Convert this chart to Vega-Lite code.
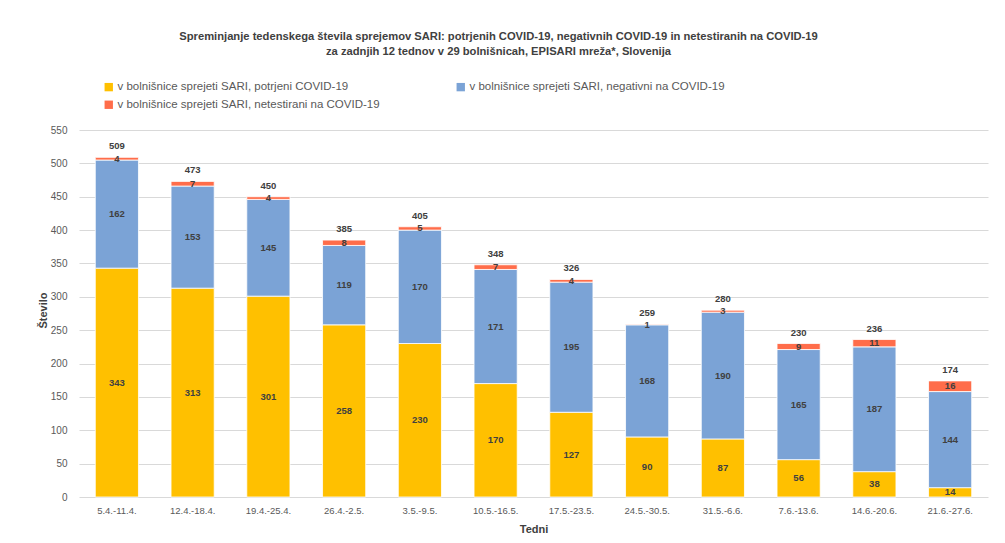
{
  "$schema": "https://vega.github.io/schema/vega-lite/v6.json",
  "width": 909,
  "height": 367,
  "autosize": {"type": "none"},
  "padding": {"left": 79, "top": 130, "right": 17, "bottom": 46},
  "background": "white",
  "config": {
    "view": {"stroke": null},
    "font": "Liberation Sans",
    "axis": {"labelColor": "#595959", "titleColor": "#404040", "labelFont": "Liberation Sans", "titleFont": "Liberation Sans"},
    "axisY": {"title": "Število", "titleFontSize": 11, "titleFontWeight": "bold", "values": [0,50,100,150,200,250,300,350,400,450,500,550], "labelOverlap": false, "labelFontSize": 10, "ticks": false, "domain": false, "gridColor": "#d9d9d9", "labelPadding": 12, "titleX": -31, "titleY": 180, "titleAngle": -90}
  },
  "title": {
    "text": ["Spreminjanje tedenskega števila sprejemov SARI: potrjenih COVID-19, negativnih COVID-19 in netestiranih na COVID-19", "za zadnjih 12 tednov v 29 bolnišnicah, EPISARI mreža*, Slovenija"],
    "fontSize": 11.2,
    "fontWeight": "bold",
    "color": "#404040",
    "anchor": "middle",
    "dx": -35,
    "offset": 24,
    "lineHeight": 15
  },
  "data": {
    "values": [
      {"t": "5.4.-11.4.", "k": "v bolnišnice sprejeti SARI, potrjeni COVID-19", "i": 1, "n": 343},
      {"t": "5.4.-11.4.", "k": "v bolnišnice sprejeti SARI, negativni na COVID-19", "i": 2, "n": 162},
      {"t": "5.4.-11.4.", "k": "v bolnišnice sprejeti SARI, netestirani na COVID-19", "i": 3, "n": 4},
      {"t": "12.4.-18.4.", "k": "v bolnišnice sprejeti SARI, potrjeni COVID-19", "i": 1, "n": 313},
      {"t": "12.4.-18.4.", "k": "v bolnišnice sprejeti SARI, negativni na COVID-19", "i": 2, "n": 153},
      {"t": "12.4.-18.4.", "k": "v bolnišnice sprejeti SARI, netestirani na COVID-19", "i": 3, "n": 7},
      {"t": "19.4.-25.4.", "k": "v bolnišnice sprejeti SARI, potrjeni COVID-19", "i": 1, "n": 301},
      {"t": "19.4.-25.4.", "k": "v bolnišnice sprejeti SARI, negativni na COVID-19", "i": 2, "n": 145},
      {"t": "19.4.-25.4.", "k": "v bolnišnice sprejeti SARI, netestirani na COVID-19", "i": 3, "n": 4},
      {"t": "26.4.-2.5.", "k": "v bolnišnice sprejeti SARI, potrjeni COVID-19", "i": 1, "n": 258},
      {"t": "26.4.-2.5.", "k": "v bolnišnice sprejeti SARI, negativni na COVID-19", "i": 2, "n": 119},
      {"t": "26.4.-2.5.", "k": "v bolnišnice sprejeti SARI, netestirani na COVID-19", "i": 3, "n": 8},
      {"t": "3.5.-9.5.", "k": "v bolnišnice sprejeti SARI, potrjeni COVID-19", "i": 1, "n": 230},
      {"t": "3.5.-9.5.", "k": "v bolnišnice sprejeti SARI, negativni na COVID-19", "i": 2, "n": 170},
      {"t": "3.5.-9.5.", "k": "v bolnišnice sprejeti SARI, netestirani na COVID-19", "i": 3, "n": 5},
      {"t": "10.5.-16.5.", "k": "v bolnišnice sprejeti SARI, potrjeni COVID-19", "i": 1, "n": 170},
      {"t": "10.5.-16.5.", "k": "v bolnišnice sprejeti SARI, negativni na COVID-19", "i": 2, "n": 171},
      {"t": "10.5.-16.5.", "k": "v bolnišnice sprejeti SARI, netestirani na COVID-19", "i": 3, "n": 7},
      {"t": "17.5.-23.5.", "k": "v bolnišnice sprejeti SARI, potrjeni COVID-19", "i": 1, "n": 127},
      {"t": "17.5.-23.5.", "k": "v bolnišnice sprejeti SARI, negativni na COVID-19", "i": 2, "n": 195},
      {"t": "17.5.-23.5.", "k": "v bolnišnice sprejeti SARI, netestirani na COVID-19", "i": 3, "n": 4},
      {"t": "24.5.-30.5.", "k": "v bolnišnice sprejeti SARI, potrjeni COVID-19", "i": 1, "n": 90},
      {"t": "24.5.-30.5.", "k": "v bolnišnice sprejeti SARI, negativni na COVID-19", "i": 2, "n": 168},
      {"t": "24.5.-30.5.", "k": "v bolnišnice sprejeti SARI, netestirani na COVID-19", "i": 3, "n": 1},
      {"t": "31.5.-6.6.", "k": "v bolnišnice sprejeti SARI, potrjeni COVID-19", "i": 1, "n": 87},
      {"t": "31.5.-6.6.", "k": "v bolnišnice sprejeti SARI, negativni na COVID-19", "i": 2, "n": 190},
      {"t": "31.5.-6.6.", "k": "v bolnišnice sprejeti SARI, netestirani na COVID-19", "i": 3, "n": 3},
      {"t": "7.6.-13.6.", "k": "v bolnišnice sprejeti SARI, potrjeni COVID-19", "i": 1, "n": 56},
      {"t": "7.6.-13.6.", "k": "v bolnišnice sprejeti SARI, negativni na COVID-19", "i": 2, "n": 165},
      {"t": "7.6.-13.6.", "k": "v bolnišnice sprejeti SARI, netestirani na COVID-19", "i": 3, "n": 9},
      {"t": "14.6.-20.6.", "k": "v bolnišnice sprejeti SARI, potrjeni COVID-19", "i": 1, "n": 38},
      {"t": "14.6.-20.6.", "k": "v bolnišnice sprejeti SARI, negativni na COVID-19", "i": 2, "n": 187},
      {"t": "14.6.-20.6.", "k": "v bolnišnice sprejeti SARI, netestirani na COVID-19", "i": 3, "n": 11},
      {"t": "21.6.-27.6.", "k": "v bolnišnice sprejeti SARI, potrjeni COVID-19", "i": 1, "n": 14},
      {"t": "21.6.-27.6.", "k": "v bolnišnice sprejeti SARI, negativni na COVID-19", "i": 2, "n": 144},
      {"t": "21.6.-27.6.", "k": "v bolnišnice sprejeti SARI, netestirani na COVID-19", "i": 3, "n": 16}
    ]
  },
  "encoding": {
    "x": {
      "field": "t", "type": "nominal", "sort": null,
      "scale": {"paddingInner": 0.43, "paddingOuter": 0.215},
      "axis": {"title": "Tedni", "titleFontSize": 11, "titleFontWeight": "bold", "labelAngle": 0, "labelFontSize": 9.5, "labelPadding": 8, "ticks": false, "domain": false, "titlePadding": 9}
    }
  },
  "layer": [
    {
      "mark": {"type": "bar", "stroke": "white", "strokeWidth": 0.8},
      "encoding": {
        "y": {
          "field": "n", "type": "quantitative", "stack": "zero", "title": "Število",
          "scale": {"domain": [0, 550], "nice": false}
        },
        "color": {
          "field": "k", "type": "nominal",
          "scale": {
            "domain": ["v bolnišnice sprejeti SARI, potrjeni COVID-19", "v bolnišnice sprejeti SARI, negativni na COVID-19", "v bolnišnice sprejeti SARI, netestirani na COVID-19"],
            "range": ["#ffc000", "#7ba3d6", "#ff6d4a"]
          },
          "legend": {
            "title": null, "orient": "none", "legendX": 24, "legendY": -49,
            "direction": "horizontal", "columns": 2, "columnPadding": 75, "rowPadding": 5,
            "symbolType": "square", "symbolSize": 70, "symbolStrokeWidth": 0,
            "labelFontSize": 11.5, "labelColor": "#595959", "labelLimit": 400, "labelOffset": 3
          }
        },
        "order": {"field": "i", "type": "quantitative"}
      }
    },
    {
      "mark": {"type": "text", "fontSize": 9.5, "fontWeight": "bold", "color": "#404040", "baseline": "middle"},
      "encoding": {
        "y": {"field": "n", "type": "quantitative", "stack": "zero", "bandPosition": 0.5, "title": "Število"},
        "text": {"field": "n", "type": "quantitative"},
        "order": {"field": "i", "type": "quantitative"}
      }
    },
    {
      "mark": {"type": "text", "fontSize": 9.5, "fontWeight": "bold", "color": "#404040", "baseline": "bottom", "dy": -6},
      "encoding": {
        "y": {"aggregate": "sum", "field": "n", "type": "quantitative", "title": "Število"},
        "text": {"aggregate": "sum", "field": "n", "type": "quantitative"}
      }
    }
  ]
}
